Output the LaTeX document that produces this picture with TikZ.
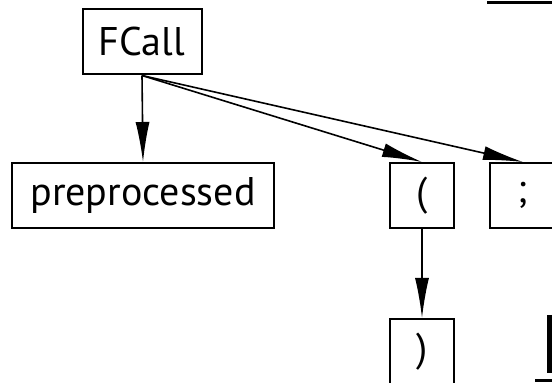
\documentclass[tikz,border=0pt]{standalone}
\usepackage{fontspec}
\setmainfont{PT Sans}
\usetikzlibrary{positioning,arrows.meta}

\begin{document}
\begin{tikzpicture}[x=1pt,y=1pt,>={Latex[length=40pt,width=14pt]}]
  \tikzstyle{tokbox}=[draw,line width=2pt,inner sep=0pt,
    minimum height=65pt,font=\fontsize{40}{44}\selectfont]
  \useasboundingbox (0,0) rectangle (552,383);
  \clip (0,0) rectangle (552,383);
  \node[tokbox,minimum width=119pt] (fcall) at (142,341) {FCall};
  \node[tokbox,minimum width=262pt] (prep) at (143,187.5) {preprocessed};
  \node[tokbox,minimum width=64pt] (lpar) at (422,187.5) {(};
  \node[tokbox,minimum width=66pt] (semi) at (523,187.5) {;};
  \node[tokbox,minimum width=64pt,below=89pt of lpar] (rpar) {)};
  \draw[->,line width=1.6pt] (fcall.south) -- (prep.north);
  \draw[->,line width=1.6pt] (fcall.south) -- (lpar.north);
  \draw[->,line width=1.6pt] (fcall.south) -- (semi.north);
  \draw[->,line width=1.6pt] (lpar) -- (rpar);
  % pieces cut off at the right edge
  \draw[line width=3pt] (487,380) -- (552,380);
  \draw[line width=5pt] (549.5,68) -- (549.5,10);
  \draw[line width=3pt] (535,2) -- (552,2);
\end{tikzpicture}
\end{document}
